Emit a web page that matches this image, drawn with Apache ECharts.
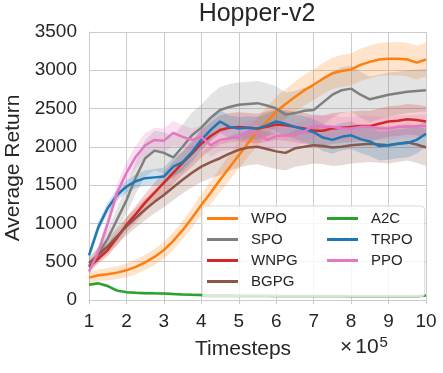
<!DOCTYPE html>
<html>
<head>
<meta charset="utf-8">
<script src="https://cdn.jsdelivr.net/npm/echarts@6/dist/echarts.min.js"></script>
<style>
  html, body { margin: 0; padding: 0; background: #fff; }
  #chart { width: 443px; height: 373px; }
</style>
</head>
<body>
<div id="chart"></div>
<script>
// timesteps (x 1e5)
const steps = [1, 1.25, 1.5, 1.75, 2, 2.25, 2.5, 2.75, 3, 3.25, 3.5, 3.75, 4, 4.25, 4.5, 4.75, 5, 5.25, 5.5, 5.75,
  6, 6.25, 6.5, 6.75, 7, 7.25, 7.5, 7.75, 8, 8.25, 8.5, 8.75, 9, 9.25, 9.5, 9.75, 10];

// mean returns
const wpo = [290, 320, 335, 355, 385, 430, 490, 560, 650, 770, 910, 1070, 1240, 1400, 1570, 1730, 1890, 2050, 2200, 2330,
  2460, 2560, 2650, 2740, 2810, 2890, 2960, 2990, 3010, 3070, 3110, 3140, 3150, 3150, 3140, 3100, 3140];
const spo = [440, 600, 800, 1050, 1300, 1600, 1850, 1950, 1920, 1860, 2000, 2150, 2250, 2380, 2480, 2520, 2550, 2560, 2570, 2540,
  2500, 2420, 2440, 2470, 2480, 2580, 2680, 2740, 2760, 2680, 2620, 2650, 2680, 2700, 2720, 2730, 2740];
const wnpg = [430, 540, 650, 810, 980, 1120, 1270, 1400, 1530, 1660, 1790, 1910, 2040, 2140, 2220, 2250, 2260, 2250, 2240, 2260,
  2290, 2280, 2260, 2240, 2210, 2210, 2240, 2250, 2260, 2270, 2270, 2300, 2330, 2340, 2360, 2350, 2330];
const bgpg = [480, 590, 700, 830, 960, 1070, 1180, 1280, 1370, 1470, 1570, 1660, 1740, 1800, 1850, 1910, 1960, 1990, 2000, 1970,
  1940, 1920, 1980, 2000, 2020, 2010, 1990, 2000, 2020, 2030, 2040, 2030, 2020, 2040, 2060, 2030, 1990];
const a2c = [196, 215, 180, 120, 100, 92, 87, 84, 82, 75, 70, 66, 63, 60, 58, 56, 55, 54, 53, 52,
  51, 50, 50, 49, 49, 48, 48, 48, 47, 47, 47, 46, 46, 46, 46, 45, 55];
const trpo = [580, 950, 1200, 1370, 1480, 1550, 1590, 1600, 1610, 1740, 1800, 1930, 2090, 2220, 2330, 2260, 2240, 2250, 2240, 2280,
  2330, 2300, 2260, 2230, 2190, 2120, 2090, 2130, 2150, 2100, 2070, 2010, 2020, 2040, 2050, 2090, 2170];
const ppo = [370, 630, 1000, 1400, 1660, 1870, 2020, 2090, 2080, 2180, 2130, 2090, 2130, 2020, 2090, 2110, 2130, 2200, 2180, 2090,
  2140, 2150, 2150, 2200, 2280, 2260, 2260, 2240, 2240, 2260, 2260, 2240, 2240, 2260, 2260, 2270, 2270];

// half-width of the shaded bands
const wpoStd = [70, 75, 80, 85, 90, 95, 100, 105, 110, 115, 120, 130, 140, 150, 160, 170, 175, 180, 185, 190,
  195, 195, 200, 200, 200, 205, 205, 210, 210, 210, 215, 215, 215, 220, 220, 220, 220];
const spoStd = [80, 100, 120, 150, 180, 210, 240, 260, 270, 280, 290, 300, 300, 300, 300, 300, 290, 290, 290, 290,
  290, 290, 290, 300, 300, 300, 300, 300, 300, 300, 300, 290, 290, 280, 280, 280, 280];
const wnpgStd = [60, 70, 80, 90, 100, 110, 120, 130, 140, 150, 160, 170, 180, 180, 190, 190, 190, 190, 190, 200,
  200, 200, 200, 200, 200, 200, 200, 200, 200, 200, 200, 200, 200, 200, 200, 200, 200];
const bgpgStd = [80, 90, 100, 110, 120, 130, 140, 150, 160, 170, 180, 190, 200, 210, 220, 220, 230, 230, 230, 230,
  230, 230, 240, 240, 240, 240, 240, 240, 240, 240, 240, 240, 240, 240, 240, 240, 240];
const a2cStd = [20, 20, 20, 20, 20, 20, 20, 20, 20, 20, 20, 20, 20, 20, 20, 20, 20, 20, 20, 20,
  20, 20, 20, 20, 20, 20, 20, 20, 20, 20, 20, 20, 20, 20, 20, 20, 20];
const trpoStd = [60, 70, 70, 70, 80, 90, 100, 110, 120, 120, 130, 130, 140, 140, 150, 150, 150, 150, 150, 150,
  150, 160, 160, 170, 170, 180, 180, 180, 180, 180, 190, 190, 190, 190, 190, 180, 170];
const ppoStd = [60, 80, 100, 120, 140, 150, 160, 160, 160, 160, 150, 150, 150, 150, 150, 150, 150, 150, 150, 150,
  150, 150, 150, 150, 150, 150, 150, 150, 150, 150, 150, 150, 150, 150, 150, 150, 150];

const yTicks = [0, 500, 1000, 1500, 2000, 2500, 3000, 3500];

const algos = [
  { name: "WPO", mean: wpo, std: wpoStd, color: "#ff7f0e" },
  { name: "SPO", mean: spo, std: spoStd, color: "#7f7f7f" },
  { name: "WNPG", mean: wnpg, std: wnpgStd, color: "#d62728" },
  { name: "BGPG", mean: bgpg, std: bgpgStd, color: "#8c564b" },
  { name: "A2C", mean: a2c, std: a2cStd, color: "#2ca02c" },
  { name: "TRPO", mean: trpo, std: trpoStd, color: "#1f77b4" },
  { name: "PPO", mean: ppo, std: ppoStd, color: "#e377c2" },
];

const FONT = "Liberation Sans, Arial, sans-serif";
const TXT = "#262626";

var series = [];
algos.forEach(function (a) {
  // shaded band (mean +/- std) as one polygon, drawn through the axes
  var band = steps.map((x, i) => [x, a.mean[i] - a.std[i], a.mean[i] + a.std[i]]);
  series.push({
    name: a.name + "_band",
    type: "custom",
    silent: true,
    data: band,
    encode: { x: 0, y: [1, 2] },
    z: 1,
    renderItem: function (params, api) {
      if (params.dataIndex !== 0) return;
      var upper = band.map((d) => api.coord([d[0], d[2]]));
      var lower = band.map((d) => api.coord([d[0], d[1]])).reverse();
      return {
        type: "polygon",
        shape: { points: upper.concat(lower) },
        style: { fill: a.color, opacity: 0.22 },
      };
    },
  });
});
algos.forEach(function (a) {
  series.push({
    name: a.name,
    type: "line",
    data: steps.map((x, i) => [x, a.mean[i]]),
    showSymbol: false,
    color: a.color,
    lineStyle: { width: 2.5, color: a.color },
    z: 2,
  });
});

var myChart = echarts.init(document.getElementById("chart"));

myChart.setOption({
  animation: false,
  backgroundColor: "#fff",
  title: {
    text: "Hopper-v2",
    left: 257,
    textAlign: "center",
    top: 2,
    padding: 0,
    textStyle: { fontFamily: FONT, fontSize: 25, fontWeight: "normal", color: TXT },
  },
  grid: { left: 89, right: 17, top: 32, bottom: 69, containLabel: false, outerBoundsMode: "none" },
  legend: [
    {
      data: ["WPO", "SPO", "WNPG", "BGPG"],
      orient: "vertical",
      left: 202,
      top: 206,
      padding: [5, 127, 8, 5],
      itemWidth: 31,
      itemHeight: 3,
      itemGap: 6,
      icon: "rect",
      backgroundColor: "rgba(255,255,255,0.8)",
      borderColor: "#d9d9d9",
      borderWidth: 1,
      borderRadius: 4,
      textStyle: { fontFamily: FONT, fontSize: 15, color: TXT, padding: [0, 0, 0, 8] },
      z: 5,
    },
    {
      data: ["A2C", "TRPO", "PPO"],
      orient: "vertical",
      left: 327,
      top: 211,
      padding: 0,
      itemWidth: 31,
      itemHeight: 3,
      itemGap: 6,
      icon: "rect",
      textStyle: { fontFamily: FONT, fontSize: 15, color: TXT, padding: [0, 0, 0, 8] },
      z: 6,
    },
  ],
  xAxis: {
    type: "value",
    min: 1,
    max: 10,
    interval: 1,
    axisLine: { show: true, lineStyle: { color: "#cccccc", width: 1 } },
    axisTick: { show: false },
    splitLine: { show: true, lineStyle: { color: "#cccccc", width: 1 } },
    axisLabel: { fontFamily: FONT, fontSize: 19, color: TXT, margin: 8 },
  },
  yAxis: {
    type: "value",
    min: -55,
    max: 3500,
    name: "Average Return",
    nameLocation: "middle",
    nameGap: 63,
    nameTextStyle: { fontFamily: FONT, fontSize: 21, color: TXT },
    axisLine: { show: true, lineStyle: { color: "#cccccc", width: 1 } },
    axisTick: { show: false, customValues: yTicks },
    splitLine: { show: true, lineStyle: { color: "#cccccc", width: 1 } },
    axisLabel: {
      fontFamily: FONT, fontSize: 19, color: TXT, margin: 12, customValues: yTicks,
      formatter: (v) => String(v),
    },
  },
  graphic: [
    {
      type: "text",
      left: 195,
      top: 339,
      style: { text: "Timesteps", font: "21px " + FONT, fill: TXT },
    },
    {
      type: "text",
      left: 340,
      top: 335,
      style: {
        text: "{x|×}10{sup|5}",
        font: "21px " + FONT,
        fill: TXT,
        rich: {
          x: { fontSize: 21, fontFamily: FONT, padding: [0, 3, 0, 0] },
          sup: { fontSize: 15, fontFamily: FONT, verticalAlign: "top", padding: [0, 0, 10, 1] },
        },
      },
    },
  ],
  series: series,
});
</script>
</body>
</html>
